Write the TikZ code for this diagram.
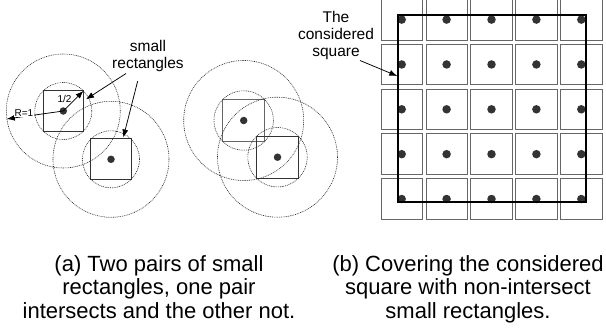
\documentclass[tikz,border=0pt]{standalone}
\usepackage{fontspec}
\setmainfont{Liberation Sans}
\usetikzlibrary{arrows.meta}
\begin{document}
\begin{tikzpicture}[x=1pt,y=-1pt,
  sq/.style={draw=black!80,line width=0.9pt,minimum width=#1,minimum height=#1,inner sep=0pt,outer sep=0pt},
  ring/.style={draw=black!85,line width=0.6pt,dash pattern=on 0.9pt off 0.9pt,circle,minimum size=#1,inner sep=0pt,outer sep=0pt},
  cell/.style={draw=black!60,line width=0.9pt,minimum width=41.3pt,minimum height=40.7pt,inner sep=0pt,outer sep=0pt},
  dot/.style={fill=black!80,circle,minimum size=#1,inner sep=0pt,outer sep=0pt},
  arr/.style={-{Latex[length=8pt,width=6pt]},line width=0.75pt},
  lbl/.style={font=\fontsize{15.5}{17}\selectfont,align=center,inner sep=0pt},
  tiny/.style={font=\fontsize{10}{11}\selectfont,inner sep=0pt},
  captxt/.style={font=\fontsize{22}{23.3}\selectfont,align=center,inner sep=0pt}]
\useasboundingbox (0,0) rectangle (606,333);

% ---- (a) left pair (non-intersecting small circles)
\coordinate (c1) at (63.3,111);
\coordinate (c2) at (111,159.3);
\node[sq=40.5pt] (s1) at (c1) {};
\node[sq=41pt] (s2) at (c2) {};
\node[ring=57pt] (r1) at (c1) {};
\node[ring=57pt] (r2) at (c2) {};
\node[ring=114pt] (R1) at (c1) {};
\node[ring=116pt] (R2) at (c2) {};
\node[dot=7.5pt] (d1) at (c1) {};
\node[dot=7.5pt] (d2) at (c2) {};
\draw[arr] (c1) -- (r1.45);
\draw[arr] (c1) -- (R1.188);
\node[tiny] (half) at (64.5,98.5) {1/2};
\node[tiny,fill=white,inner sep=0.5pt] (Rlab) at (24,113) {R=1};

% ---- (a) right pair (intersecting small circles)
\coordinate (c3) at (243.7,120.5);
\coordinate (c4) at (277.5,157.2);
\node[sq=42pt,draw=black!60] (s3) at (c3) {};
\node[sq=42pt] (s4) at (c4) {};
\node[ring=59.4pt] (r3) at (c3) {};
\node[ring=59.4pt] (r4) at (c4) {};
\node[ring=120pt] (R3) at (c3) {};
\node[ring=120pt] (R4) at (c4) {};
\node[dot=7.5pt] (d3) at (c3) {};
\node[dot=7.5pt] (d4) at (c4) {};

% ---- label "small rectangles"
\node[lbl] (small) at (148,56) {small\\rectangles};
\coordinate (a1s) at (126,73.5);
\coordinate (a1e) at (86,99.3);
\coordinate (a2s) at (137.7,81);
\coordinate (a2e) at (123.3,137.5);
\draw[arr] (a1s) -- (a1e);
\draw[arr] (a2s) -- (a2e);

% ---- (b) grid of cells
\foreach \i in {0,...,4}{
  \foreach \j in {0,...,4}{
    \node[cell] (cell-\i-\j) at ({401.7+44.9*\i},{19.6+44.85*\j}) {};
    \node[dot=8.5pt] (p-\i-\j) at (cell-\i-\j.center) {};
  }
}
\coordinate (sqA) at (398.3,15);
\coordinate (sqB) at (586.3,201.7);
\draw[line width=1.7pt] (sqA) rectangle (sqB);
\node[lbl] (thesq) at (336,35) {The\\considered\\square};
\coordinate (tsq) at (360,60.5);
\coordinate (tsqe) at (397.3,76);
\draw[arr] (tsq) -- (tsqe);

% ---- captions
\node[captxt,anchor=north] (capa) at (159,255.5) {(a) Two pairs of small\\rectangles, one pair\\intersects and the other not.};
\node[captxt,anchor=north] (capb) at (468,255.5) {(b) Covering the considered\\square with non-intersect\\small rectangles.};
\end{tikzpicture}
\end{document}
